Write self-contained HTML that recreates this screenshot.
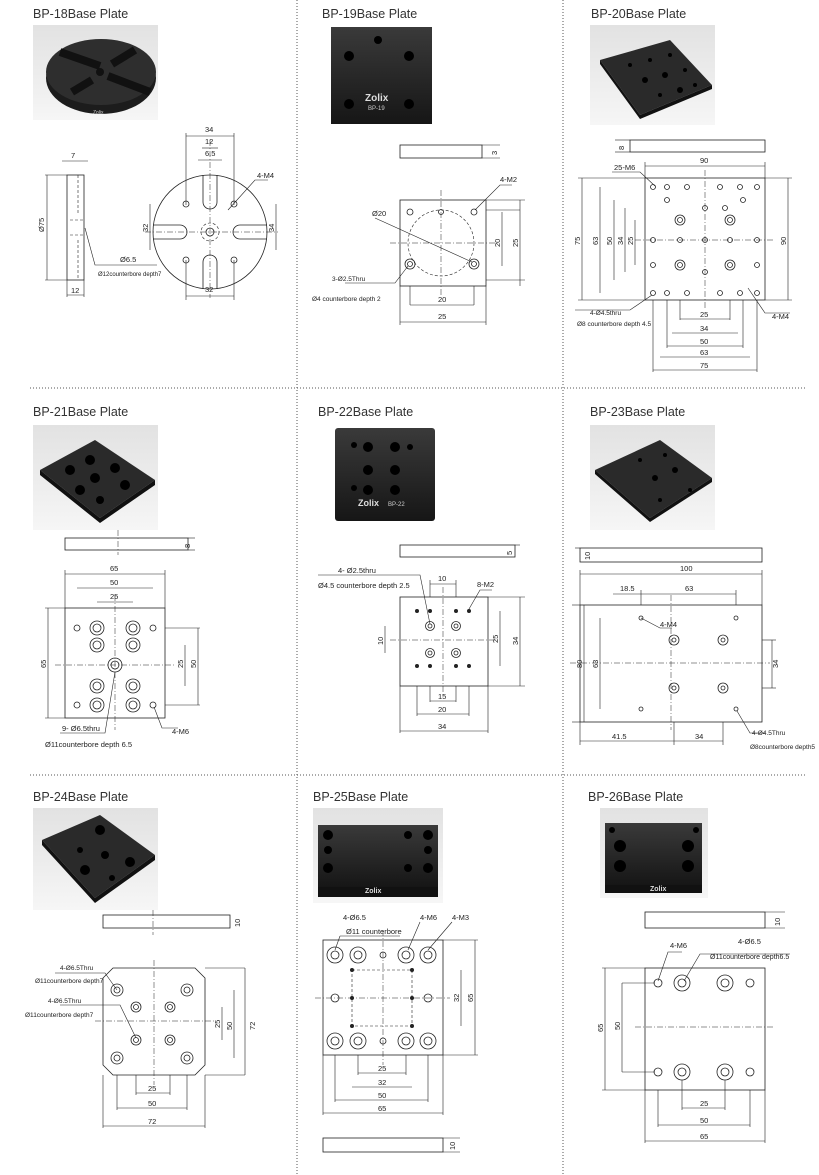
<!DOCTYPE html>
<html><head><meta charset="utf-8"><style>
html,body{margin:0;padding:0;background:#fff;}
svg{display:block;}
text{font-family:"Liberation Sans",sans-serif;fill:#222;}
.t{font-size:12.5px;fill:#333;}
.d{font-size:7.5px;}
.l{stroke:#222;stroke-width:0.8;fill:none;}
.f{stroke:#222;stroke-width:0.6;fill:none;}
.c{stroke:#222;stroke-width:0.5;fill:none;stroke-dasharray:6 2 1 2;}
.h{stroke:#222;stroke-width:0.6;fill:none;stroke-dasharray:3 2;}
.sep{stroke:#555;stroke-width:1;stroke-dasharray:1 2;}
</style></head><body>
<svg width="819" height="1175" viewBox="0 0 819 1175" xmlns="http://www.w3.org/2000/svg">
<defs>
<linearGradient id="bg" x1="0" y1="0" x2="0" y2="1"><stop offset="0" stop-color="#e2e2e2"/><stop offset="1" stop-color="#f6f6f6"/></linearGradient>
<linearGradient id="pl" x1="0" y1="0" x2="0" y2="1"><stop offset="0" stop-color="#3a3a3a"/><stop offset="1" stop-color="#161616"/></linearGradient>
</defs>
<!-- separators -->
<line class="sep" x1="297" y1="0" x2="297" y2="1175"/>
<line class="sep" x1="563" y1="0" x2="563" y2="1175"/>
<line class="sep" x1="30" y1="388" x2="805" y2="388"/>
<line class="sep" x1="30" y1="775" x2="805" y2="775"/>

<!-- titles -->
<text class="t" x="33" y="18">BP-18Base Plate</text>
<text class="t" x="322" y="18">BP-19Base Plate</text>
<text class="t" x="591" y="18">BP-20Base Plate</text>
<text class="t" x="33" y="416">BP-21Base Plate</text>
<text class="t" x="318" y="416">BP-22Base Plate</text>
<text class="t" x="590" y="416">BP-23Base Plate</text>
<text class="t" x="33" y="801">BP-24Base Plate</text>
<text class="t" x="313" y="801">BP-25Base Plate</text>
<text class="t" x="588" y="801">BP-26Base Plate</text>

<!-- ===== BP-18 ===== -->
<rect x="33" y="25" width="125" height="95" fill="url(#bg)"/>
<ellipse cx="101" cy="78" rx="55" ry="36" fill="#1c1c1c"/>
<ellipse cx="101" cy="72" rx="55" ry="33" fill="#2e2e2e"/>
<path d="M60 52 L100 66 M108 76 L150 92 M72 92 L92 80 M112 64 L135 50" stroke="#111" stroke-width="8"/>
<circle cx="100" cy="72" r="4" fill="#111"/>
<text x="93" y="114" style="font-size:5px;fill:#ccc">Zolix</text>
<!-- side -->
<rect class="l" x="67" y="175" width="17" height="105"/>
<line class="h" x1="78" y1="175" x2="78" y2="215"/><line class="h" x1="78" y1="240" x2="78" y2="280"/>
<line class="h" x1="70" y1="220" x2="84" y2="220"/><line class="h" x1="70" y1="235" x2="84" y2="235"/>
<line class="f" x1="45" y1="175" x2="67" y2="175"/><line class="f" x1="45" y1="280" x2="67" y2="280"/>
<line class="f" x1="47" y1="175" x2="47" y2="280"/>
<text class="d" transform="translate(44,232) rotate(-90)">Ø75</text>
<line class="f" x1="62" y1="161" x2="88" y2="161"/><text class="d" x="71" y="158">7</text>
<line class="f" x1="67" y1="280" x2="67" y2="297"/><line class="f" x1="84" y1="280" x2="84" y2="297"/>
<line class="f" x1="67" y1="295" x2="84" y2="295"/><text class="d" x="71" y="293">12</text>
<polyline class="f" points="85,228 95,265 157,265"/>
<text class="d" x="120" y="262">Ø6.5</text>
<text class="d" x="98" y="276" style="font-size:6px">Ø12counterbore depth7</text>
<!-- top -->
<circle class="l" cx="210" cy="232" r="57"/>
<path class="l" d="M203 175 V202 A7 7 0 0 0 217 202 V175"/>
<path class="l" d="M203 289 V262 A7 7 0 0 1 217 262 V289"/>
<path class="l" d="M153 225 H180 A7 7 0 0 1 180 239 H153"/>
<path class="l" d="M267 225 H240 A7 7 0 0 0 240 239 H267"/>
<circle class="h" cx="210" cy="232" r="9"/><circle class="l" cx="210" cy="232" r="4"/>
<line class="c" x1="145" y1="232" x2="278" y2="232"/><line class="c" x1="210" y1="140" x2="210" y2="298"/>
<circle class="l" cx="186" cy="204" r="3"/><circle class="l" cx="234" cy="204" r="3"/><circle class="l" cx="186" cy="260" r="3"/><circle class="l" cx="234" cy="260" r="3"/>
<line class="f" x1="186" y1="133" x2="186" y2="205"/><line class="f" x1="234" y1="133" x2="234" y2="205"/>
<line class="f" x1="186" y1="136" x2="234" y2="136"/><text class="d" x="205" y="132">34</text>
<line class="f" x1="202" y1="148" x2="218" y2="148"/><text class="d" x="205" y="144">12</text>
<line class="f" x1="198" y1="160" x2="222" y2="160"/><text class="d" x="205" y="156">6.5</text>
<line class="f" x1="150" y1="204" x2="150" y2="250"/><text class="d" transform="translate(148,232) rotate(-90)">32</text>
<line class="f" x1="276" y1="204" x2="276" y2="250"/><text class="d" transform="translate(274,232) rotate(-90)">34</text>
<line class="f" x1="186" y1="260" x2="186" y2="300"/><line class="f" x1="234" y1="260" x2="234" y2="300"/>
<line class="f" x1="186" y1="296" x2="234" y2="296"/><text class="d" x="205" y="292">32</text>
<polyline class="f" points="228,210 255,180 268,180"/><text class="d" x="257" y="178">4-M4</text>

<!-- ===== BP-19 ===== -->
<rect x="331" y="27" width="101" height="97" fill="url(#pl)"/>
<circle cx="378" cy="40" r="4" fill="#000"/><circle cx="349" cy="56" r="5" fill="#000"/><circle cx="409" cy="56" r="5" fill="#000"/>
<circle cx="349" cy="104" r="5" fill="#000"/><circle cx="409" cy="104" r="5" fill="#000"/>
<text x="365" y="101" style="font-size:10px;font-weight:bold;fill:#ddd">Zolix</text>
<text x="368" y="110" style="font-size:6px;fill:#ccc">BP-19</text>
<rect class="l" x="400" y="145" width="82" height="13"/>
<line class="f" x1="482" y1="145" x2="500" y2="145"/><line class="f" x1="482" y1="158" x2="500" y2="158"/><text class="d" transform="translate(497,155) rotate(-90)">3</text>
<rect class="l" x="400" y="200" width="86" height="86"/>
<circle class="h" cx="441" cy="243" r="33"/>
<line class="c" x1="390" y1="243" x2="495" y2="243"/><line class="c" x1="441" y1="190" x2="441" y2="296"/>
<circle class="l" cx="410" cy="212" r="3"/><circle class="l" cx="474" cy="212" r="3"/><circle class="l" cx="410" cy="264" r="5"/><circle class="l" cx="474" cy="264" r="5"/>
<circle class="l" cx="410" cy="264" r="2.5"/><circle class="l" cx="474" cy="264" r="2.5"/><circle class="l" cx="441" cy="212" r="2.5"/>
<line class="f" x1="375" y1="218" x2="472" y2="262"/><text class="d" x="372" y="216">Ø20</text>
<polyline class="f" points="475,210 500,185 512,185"/><text class="d" x="500" y="182">4-M2</text>
<polyline class="f" points="408,266 395,283 345,283"/><text class="d" x="332" y="281" style="font-size:6.5px">3-Ø2.5Thru</text>
<text class="d" x="312" y="301" style="font-size:6.5px">Ø4 counterbore depth 2</text>
<line class="f" x1="486" y1="210" x2="520" y2="210"/><line class="f" x1="486" y1="200" x2="525" y2="200"/><line class="f" x1="486" y1="280" x2="525" y2="280"/>
<line class="f" x1="502" y1="212" x2="502" y2="266"/><text class="d" transform="translate(500,247) rotate(-90)">20</text>
<line class="f" x1="520" y1="200" x2="520" y2="286"/><text class="d" transform="translate(518,247) rotate(-90)">25</text>
<line class="f" x1="410" y1="286" x2="410" y2="305"/><line class="f" x1="474" y1="286" x2="474" y2="305"/><line class="f" x1="400" y1="286" x2="400" y2="325"/><line class="f" x1="486" y1="286" x2="486" y2="325"/>
<line class="f" x1="410" y1="305" x2="474" y2="305"/><text class="d" x="438" y="302">20</text>
<line class="f" x1="400" y1="322" x2="486" y2="322"/><text class="d" x="438" y="319">25</text>

<!-- ===== BP-20 ===== -->
<rect x="590" y="25" width="125" height="100" fill="url(#bg)"/>
<polygon points="600,60 670,40 712,85 640,115" fill="#2a2a2a"/>
<polygon points="600,60 640,115 640,119 600,64" fill="#111"/>
<polygon points="640,115 712,85 712,89 640,119" fill="#111"/>
<g fill="#000"><circle cx="630" cy="65" r="2"/><circle cx="650" cy="60" r="2"/><circle cx="670" cy="55" r="2"/><circle cx="645" cy="80" r="3"/><circle cx="665" cy="75" r="3"/><circle cx="685" cy="70" r="2"/><circle cx="660" cy="95" r="2"/><circle cx="680" cy="90" r="3"/><circle cx="695" cy="85" r="2"/></g>
<rect class="l" x="630" y="140" width="135" height="12"/>
<line class="f" x1="615" y1="140" x2="630" y2="140"/><line class="f" x1="615" y1="152" x2="630" y2="152"/><text class="d" transform="translate(624,150) rotate(-90)">8</text>
<rect class="l" x="645" y="178" width="120" height="122"/>
<line class="f" x1="645" y1="162" x2="645" y2="178"/><line class="f" x1="765" y1="162" x2="765" y2="178"/><line class="f" x1="645" y1="166" x2="765" y2="166"/><text class="d" x="700" y="163">90</text>
<line class="c" x1="635" y1="240" x2="775" y2="240"/><line class="c" x1="705" y1="170" x2="705" y2="310"/>
<g class="l">
<circle cx="653" cy="187" r="2.5"/><circle cx="667" cy="187" r="2.5"/><circle cx="687" cy="187" r="2.5"/><circle cx="720" cy="187" r="2.5"/><circle cx="740" cy="187" r="2.5"/><circle cx="757" cy="187" r="2.5"/>
<circle cx="667" cy="200" r="2.5"/><circle cx="743" cy="200" r="2.5"/><circle cx="705" cy="208" r="2.5"/><circle cx="725" cy="208" r="2.5"/>
<circle cx="680" cy="220" r="5"/><circle cx="680" cy="220" r="2.5"/><circle cx="730" cy="220" r="5"/><circle cx="730" cy="220" r="2.5"/>
<circle cx="653" cy="240" r="2.5"/><circle cx="680" cy="240" r="2.5"/><circle cx="705" cy="240" r="2.5"/><circle cx="730" cy="240" r="2.5"/><circle cx="757" cy="240" r="2.5"/>
<circle cx="680" cy="265" r="5"/><circle cx="680" cy="265" r="2.5"/><circle cx="730" cy="265" r="5"/><circle cx="730" cy="265" r="2.5"/>
<circle cx="653" cy="265" r="2.5"/><circle cx="705" cy="272" r="2.5"/><circle cx="757" cy="265" r="2.5"/>
<circle cx="653" cy="293" r="2.5"/><circle cx="667" cy="293" r="2.5"/><circle cx="687" cy="293" r="2.5"/><circle cx="720" cy="293" r="2.5"/><circle cx="740" cy="293" r="2.5"/><circle cx="757" cy="293" r="2.5"/>
</g>
<polyline class="f" points="655,186 640,172 612,172"/><text class="d" x="614" y="170">25-M6</text>
<line class="f" x1="578" y1="178" x2="645" y2="178"/><line class="f" x1="578" y1="300" x2="645" y2="300"/>
<line class="f" x1="582" y1="178" x2="582" y2="300"/><text class="d" transform="translate(580,245) rotate(-90)">75</text>
<line class="f" x1="600" y1="187" x2="600" y2="293"/><text class="d" transform="translate(598,245) rotate(-90)">63</text>
<line class="f" x1="614" y1="200" x2="614" y2="280"/><text class="d" transform="translate(612,245) rotate(-90)">50</text>
<line class="f" x1="625" y1="208" x2="625" y2="272"/><text class="d" transform="translate(623,245) rotate(-90)">34</text>
<line class="f" x1="635" y1="220" x2="635" y2="265"/><text class="d" transform="translate(633,245) rotate(-90)">25</text>
<line class="f" x1="765" y1="178" x2="792" y2="178"/><line class="f" x1="765" y1="300" x2="792" y2="300"/>
<line class="f" x1="788" y1="178" x2="788" y2="300"/><text class="d" transform="translate(786,245) rotate(-90)">90</text>
<polyline class="f" points="652,295 630,310 575,310"/><text class="d" x="590" y="315" style="font-size:6.5px">4-Ø4.5thru</text>
<text class="d" x="577" y="326" style="font-size:6.5px">Ø8 counterbore depth 4.5</text>
<polyline class="f" points="748,288 765,313 790,313"/><text class="d" x="772" y="319">4-M4</text>
<line class="f" x1="680" y1="300" x2="680" y2="320"/><line class="f" x1="730" y1="300" x2="730" y2="320"/><line class="f" x1="680" y1="319" x2="730" y2="319"/><text class="d" x="700" y="317">25</text>
<line class="f" x1="672" y1="333" x2="738" y2="333"/><text class="d" x="700" y="331">34</text>
<line class="f" x1="667" y1="300" x2="667" y2="348"/><line class="f" x1="743" y1="300" x2="743" y2="348"/><line class="f" x1="667" y1="346" x2="743" y2="346"/><text class="d" x="700" y="344">50</text>
<line class="f" x1="653" y1="300" x2="653" y2="372"/><line class="f" x1="757" y1="300" x2="757" y2="372"/><line class="f" x1="660" y1="357" x2="750" y2="357"/><text class="d" x="700" y="355">63</text>
<line class="f" x1="653" y1="370" x2="757" y2="370"/><text class="d" x="700" y="368">75</text>

<!-- ===== BP-21 ===== -->
<rect x="33" y="425" width="125" height="105" fill="url(#bg)"/>
<polygon points="40,470 95,440 155,480 100,518" fill="#2a2a2a"/>
<polygon points="40,470 100,518 100,523 40,475" fill="#111"/><polygon points="100,518 155,480 155,485 100,523" fill="#111"/>
<g fill="#000"><circle cx="70" cy="470" r="5"/><circle cx="90" cy="460" r="5"/><circle cx="95" cy="478" r="5"/><circle cx="115" cy="468" r="5"/><circle cx="80" cy="490" r="5"/><circle cx="100" cy="500" r="4"/><circle cx="125" cy="485" r="5"/></g>
<rect class="l" x="65" y="538" width="123" height="12"/>
<line class="c" x1="118" y1="530" x2="118" y2="555"/>
<line class="f" x1="188" y1="538" x2="195" y2="538"/><line class="f" x1="188" y1="550" x2="195" y2="550"/><text class="d" transform="translate(190,548) rotate(-90)">8</text>
<rect class="l" x="65" y="608" width="100" height="110"/>
<line class="c" x1="55" y1="665" x2="175" y2="665"/><line class="c" x1="115" y1="595" x2="115" y2="730"/>
<g class="l">
<circle cx="77" cy="628" r="3"/><circle cx="97" cy="628" r="7"/><circle cx="97" cy="628" r="4"/><circle cx="133" cy="628" r="7"/><circle cx="133" cy="628" r="4"/><circle cx="153" cy="628" r="3"/>
<circle cx="97" cy="645" r="7"/><circle cx="97" cy="645" r="4"/><circle cx="133" cy="645" r="7"/><circle cx="133" cy="645" r="4"/>
<circle cx="115" cy="665" r="7"/><circle cx="115" cy="665" r="4"/>
<circle cx="97" cy="686" r="7"/><circle cx="97" cy="686" r="4"/><circle cx="133" cy="686" r="7"/><circle cx="133" cy="686" r="4"/>
<circle cx="77" cy="705" r="3"/><circle cx="97" cy="705" r="7"/><circle cx="97" cy="705" r="4"/><circle cx="133" cy="705" r="7"/><circle cx="133" cy="705" r="4"/><circle cx="153" cy="705" r="3"/>
</g>
<line class="f" x1="65" y1="570" x2="65" y2="608"/><line class="f" x1="165" y1="570" x2="165" y2="608"/><line class="f" x1="65" y1="574" x2="165" y2="574"/><text class="d" x="110" y="571">65</text>
<line class="f" x1="77" y1="588" x2="153" y2="588"/><text class="d" x="110" y="585">50</text>
<line class="f" x1="97" y1="602" x2="133" y2="602"/><text class="d" x="110" y="599">25</text>
<line class="f" x1="45" y1="608" x2="65" y2="608"/><line class="f" x1="45" y1="718" x2="65" y2="718"/>
<line class="f" x1="48" y1="608" x2="48" y2="718"/><text class="d" transform="translate(46,668) rotate(-90)">65</text>
<line class="f" x1="185" y1="645" x2="185" y2="686"/><text class="d" transform="translate(183,668) rotate(-90)">25</text>
<line class="f" x1="198" y1="628" x2="198" y2="705"/><text class="d" transform="translate(196,668) rotate(-90)">50</text>
<line class="f" x1="165" y1="628" x2="200" y2="628"/><line class="f" x1="165" y1="705" x2="200" y2="705"/>
<polyline class="f" points="154,707 162,728 178,728"/><text class="d" x="172" y="734">4-M6</text>
<polyline class="f" points="115,672 105,733 60,733"/><text class="d" x="62" y="731">9- Ø6.5thru</text>
<text class="d" x="45" y="747">Ø11counterbore depth 6.5</text>

<!-- ===== BP-22 ===== -->
<rect x="335" y="428" width="100" height="93" fill="url(#pl)" rx="3"/>
<g fill="#000"><circle cx="354" cy="445" r="3"/><circle cx="368" cy="447" r="5"/><circle cx="395" cy="447" r="5"/><circle cx="368" cy="470" r="5"/><circle cx="395" cy="470" r="5"/><circle cx="410" cy="447" r="3"/><circle cx="354" cy="488" r="3"/><circle cx="368" cy="490" r="5"/><circle cx="395" cy="490" r="5"/></g>
<text x="358" y="506" style="font-size:9px;font-weight:bold;fill:#ddd">Zolix</text><text x="388" y="506" style="font-size:6px;fill:#ccc">BP-22</text>
<rect class="l" x="400" y="545" width="115" height="12"/>
<line class="f" x1="515" y1="545" x2="520" y2="545"/><text class="d" transform="translate(512,555) rotate(-90)">5</text>
<rect class="l" x="400" y="597" width="88" height="89"/>
<line class="c" x1="390" y1="640" x2="498" y2="640"/><line class="c" x1="443" y1="587" x2="443" y2="696"/>
<g class="l"><circle cx="430" cy="626" r="4.5"/><circle cx="430" cy="626" r="2"/><circle cx="456" cy="626" r="4.5"/><circle cx="456" cy="626" r="2"/><circle cx="430" cy="653" r="4.5"/><circle cx="430" cy="653" r="2"/><circle cx="456" cy="653" r="4.5"/><circle cx="456" cy="653" r="2"/></g>
<g fill="#222"><circle cx="417" cy="611" r="2"/><circle cx="469" cy="611" r="2"/><circle cx="417" cy="666" r="2"/><circle cx="469" cy="666" r="2"/><circle cx="430" cy="611" r="2"/><circle cx="456" cy="611" r="2"/><circle cx="430" cy="666" r="2"/><circle cx="456" cy="666" r="2"/></g>
<line class="f" x1="430" y1="580" x2="430" y2="597"/><line class="f" x1="456" y1="580" x2="456" y2="597"/><line class="f" x1="430" y1="584" x2="456" y2="584"/><text class="d" x="438" y="581">10</text>
<polyline class="f" points="430,624 420,575 318,575"/><text class="d" x="338" y="573">4- Ø2.5thru</text>
<text class="d" x="318" y="588">Ø4.5 counterbore depth 2.5</text>
<polyline class="f" points="469,609 480,590 492,590"/><text class="d" x="477" y="587">8-M2</text>
<line class="f" x1="385" y1="626" x2="385" y2="653"/><text class="d" transform="translate(383,645) rotate(-90)">10</text>
<line class="f" x1="488" y1="597" x2="525" y2="597"/><line class="f" x1="488" y1="686" x2="525" y2="686"/>
<line class="f" x1="500" y1="611" x2="500" y2="666"/><text class="d" transform="translate(498,643) rotate(-90)">25</text>
<line class="f" x1="520" y1="597" x2="520" y2="686"/><text class="d" transform="translate(518,645) rotate(-90)">34</text>
<line class="f" x1="430" y1="686" x2="430" y2="702"/><line class="f" x1="456" y1="686" x2="456" y2="702"/><line class="f" x1="430" y1="701" x2="456" y2="701"/><text class="d" x="438" y="699">15</text>
<line class="f" x1="417" y1="686" x2="417" y2="716"/><line class="f" x1="469" y1="686" x2="469" y2="716"/><line class="f" x1="417" y1="714" x2="469" y2="714"/><text class="d" x="438" y="712">20</text>
<line class="f" x1="400" y1="686" x2="400" y2="733"/><line class="f" x1="488" y1="686" x2="488" y2="733"/><line class="f" x1="400" y1="731" x2="488" y2="731"/><text class="d" x="438" y="729">34</text>

<!-- ===== BP-23 ===== -->
<rect x="590" y="425" width="125" height="105" fill="url(#bg)"/>
<polygon points="595,470 660,440 712,478 650,518" fill="#2a2a2a"/>
<polygon points="595,470 650,518 650,522 595,474" fill="#111"/><polygon points="650,518 712,478 712,482 650,522" fill="#111"/>
<g fill="#000"><circle cx="640" cy="460" r="2"/><circle cx="665" cy="455" r="2"/><circle cx="655" cy="478" r="3"/><circle cx="675" cy="470" r="3"/><circle cx="660" cy="500" r="2"/><circle cx="690" cy="490" r="2"/></g>
<rect class="l" x="580" y="548" width="182" height="14"/>
<line class="f" x1="575" y1="548" x2="580" y2="548"/><text class="d" transform="translate(590,560) rotate(-90)">10</text>
<rect class="l" x="580" y="605" width="182" height="117"/>
<line class="c" x1="570" y1="663" x2="770" y2="663"/><line class="c" x1="671" y1="595" x2="671" y2="730"/>
<g class="l"><circle cx="641" cy="618" r="2"/><circle cx="736" cy="618" r="2"/><circle cx="641" cy="709" r="2"/><circle cx="736" cy="709" r="2"/>
<circle cx="674" cy="640" r="5"/><circle cx="674" cy="640" r="2"/><circle cx="723" cy="640" r="5"/><circle cx="723" cy="640" r="2"/>
<circle cx="674" cy="688" r="5"/><circle cx="674" cy="688" r="2"/><circle cx="723" cy="688" r="5"/><circle cx="723" cy="688" r="2"/></g>
<line class="f" x1="580" y1="570" x2="580" y2="605"/><line class="f" x1="762" y1="570" x2="762" y2="605"/><line class="f" x1="580" y1="574" x2="762" y2="574"/><text class="d" x="680" y="571">100</text>
<line class="f" x1="613" y1="594" x2="736" y2="594"/><text class="d" x="620" y="591">18.5</text><text class="d" x="685" y="591">63</text>
<line class="f" x1="641" y1="590" x2="641" y2="605"/><line class="f" x1="736" y1="590" x2="736" y2="605"/>
<polyline class="f" points="641,618 660,628 672,628"/><text class="d" x="660" y="627">4-M4</text>
<line class="f" x1="572" y1="605" x2="580" y2="605"/><line class="f" x1="572" y1="722" x2="580" y2="722"/>
<line class="f" x1="584" y1="605" x2="584" y2="722"/><text class="d" transform="translate(582,668) rotate(-90)">80</text>
<line class="f" x1="600" y1="618" x2="600" y2="709"/><text class="d" transform="translate(598,668) rotate(-90)">63</text>
<line class="f" x1="772" y1="640" x2="772" y2="688"/><text class="d" transform="translate(778,668) rotate(-90)">34</text>
<line class="f" x1="762" y1="640" x2="776" y2="640"/><line class="f" x1="762" y1="688" x2="776" y2="688"/>
<line class="f" x1="580" y1="722" x2="580" y2="745"/><line class="f" x1="674" y1="722" x2="674" y2="745"/><line class="f" x1="723" y1="722" x2="723" y2="745"/>
<line class="f" x1="580" y1="741" x2="723" y2="741"/><text class="d" x="612" y="739">41.5</text><text class="d" x="695" y="739">34</text>
<polyline class="f" points="737,711 750,733 765,733"/><text class="d" x="752" y="735" style="font-size:6.5px">4-Ø4.5Thru</text>
<text class="d" x="750" y="749" style="font-size:6.5px">Ø8counterbore depth5</text>

<!-- ===== BP-24 ===== -->
<rect x="33" y="808" width="125" height="102" fill="url(#bg)"/>
<polygon points="42,840 100,815 155,855 95,898" fill="#2a2a2a"/>
<polygon points="42,840 95,898 95,903 42,845" fill="#111"/><polygon points="95,898 155,855 155,860 95,903" fill="#111"/>
<g fill="#000"><circle cx="100" cy="830" r="5"/><circle cx="80" cy="850" r="3"/><circle cx="105" cy="855" r="4"/><circle cx="130" cy="862" r="5"/><circle cx="85" cy="870" r="5"/><circle cx="112" cy="878" r="3"/></g>
<rect class="l" x="103" y="915" width="127" height="13"/>
<line class="c" x1="153" y1="910" x2="153" y2="935"/>
<text class="d" transform="translate(240,927) rotate(-90)">10</text>
<polygon class="l" points="113,968 195,968 205,978 205,1065 195,1075 113,1075 103,1065 103,978"/>
<line class="c" x1="95" y1="1021" x2="215" y2="1021"/><line class="c" x1="154" y1="960" x2="154" y2="1085"/>
<g class="l"><circle cx="117" cy="990" r="6"/><circle cx="117" cy="990" r="3"/><circle cx="187" cy="990" r="6"/><circle cx="187" cy="990" r="3"/>
<circle cx="117" cy="1058" r="6"/><circle cx="117" cy="1058" r="3"/><circle cx="187" cy="1058" r="6"/><circle cx="187" cy="1058" r="3"/>
<circle cx="136" cy="1007" r="5"/><circle cx="136" cy="1007" r="2.5"/><circle cx="170" cy="1007" r="5"/><circle cx="170" cy="1007" r="2.5"/>
<circle cx="136" cy="1040" r="5"/><circle cx="136" cy="1040" r="2.5"/><circle cx="170" cy="1040" r="5"/><circle cx="170" cy="1040" r="2.5"/></g>
<polyline class="f" points="117,990 105,973 55,973"/><text class="d" x="60" y="970" style="font-size:6.5px">4-Ø6.5Thru</text>
<text class="d" x="35" y="983" style="font-size:6.5px">Ø11counterbore depth7</text>
<polyline class="f" points="136,1038 120,1005 60,1005"/><text class="d" x="48" y="1003" style="font-size:6.5px">4-Ø6.5Thru</text>
<text class="d" x="25" y="1017" style="font-size:6.5px">Ø11counterbore depth7</text>
<line class="f" x1="205" y1="968" x2="245" y2="968"/><line class="f" x1="205" y1="1075" x2="245" y2="1075"/>
<line class="f" x1="222" y1="1007" x2="222" y2="1040"/><text class="d" transform="translate(220,1028) rotate(-90)">25</text>
<line class="f" x1="234" y1="990" x2="234" y2="1058"/><text class="d" transform="translate(232,1030) rotate(-90)">50</text>
<line class="f" x1="245" y1="968" x2="245" y2="1075"/><text class="d" transform="translate(255,1030) rotate(-90)">72</text>
<line class="f" x1="136" y1="1075" x2="136" y2="1095"/><line class="f" x1="170" y1="1075" x2="170" y2="1095"/><line class="f" x1="136" y1="1093" x2="170" y2="1093"/><text class="d" x="148" y="1091">25</text>
<line class="f" x1="117" y1="1075" x2="117" y2="1110"/><line class="f" x1="187" y1="1075" x2="187" y2="1110"/><line class="f" x1="117" y1="1108" x2="187" y2="1108"/><text class="d" x="148" y="1106">50</text>
<line class="f" x1="103" y1="1075" x2="103" y2="1128"/><line class="f" x1="205" y1="1075" x2="205" y2="1128"/><line class="f" x1="103" y1="1126" x2="205" y2="1126"/><text class="d" x="148" y="1124">72</text>

<!-- ===== BP-25 ===== -->
<rect x="313" y="808" width="130" height="95" fill="url(#bg)"/>
<rect x="318" y="825" width="120" height="62" fill="url(#pl)"/>
<rect x="318" y="887" width="120" height="10" fill="#111"/>
<g fill="#000"><circle cx="328" cy="835" r="5"/><circle cx="428" cy="835" r="5"/><circle cx="328" cy="850" r="4"/><circle cx="428" cy="850" r="4"/><circle cx="328" cy="868" r="5"/><circle cx="428" cy="868" r="5"/><circle cx="408" cy="835" r="4"/><circle cx="408" cy="868" r="4"/></g>
<text x="365" y="893" style="font-size:7px;font-weight:bold;fill:#ddd">Zolix</text>
<rect class="l" x="323" y="940" width="120" height="115"/>
<line class="c" x1="315" y1="998" x2="450" y2="998"/><line class="c" x1="383" y1="930" x2="383" y2="1065"/>
<g class="l">
<circle cx="335" cy="955" r="8"/><circle cx="335" cy="955" r="4"/><circle cx="358" cy="955" r="8"/><circle cx="358" cy="955" r="4"/><circle cx="406" cy="955" r="8"/><circle cx="406" cy="955" r="4"/><circle cx="428" cy="955" r="8"/><circle cx="428" cy="955" r="4"/>
<circle cx="335" cy="1041" r="8"/><circle cx="335" cy="1041" r="4"/><circle cx="358" cy="1041" r="8"/><circle cx="358" cy="1041" r="4"/><circle cx="406" cy="1041" r="8"/><circle cx="406" cy="1041" r="4"/><circle cx="428" cy="1041" r="8"/><circle cx="428" cy="1041" r="4"/>
<circle cx="335" cy="998" r="4"/><circle cx="428" cy="998" r="4"/><circle cx="383" cy="955" r="3"/><circle cx="383" cy="1041" r="3"/>
</g>
<rect class="h" x="352" y="970" width="60" height="56"/>
<g fill="#222"><circle cx="352" cy="970" r="2"/><circle cx="412" cy="970" r="2"/><circle cx="352" cy="1026" r="2"/><circle cx="412" cy="1026" r="2"/><circle cx="352" cy="998" r="2"/><circle cx="412" cy="998" r="2"/></g>
<text class="d" x="343" y="920">4-Ø6.5</text><text class="d" x="346" y="934">Ø11 counterbore</text>
<line class="f" x1="340" y1="936" x2="400" y2="936"/><line class="f" x1="340" y1="936" x2="335" y2="950"/>
<text class="d" x="420" y="920">4-M6</text><text class="d" x="452" y="920">4-M3</text>
<line class="f" x1="420" y1="922" x2="408" y2="950"/><line class="f" x1="452" y1="922" x2="428" y2="950"/>
<line class="f" x1="443" y1="940" x2="478" y2="940"/><line class="f" x1="443" y1="1055" x2="478" y2="1055"/>
<line class="f" x1="461" y1="970" x2="461" y2="1026"/><text class="d" transform="translate(459,1002) rotate(-90)">32</text>
<line class="f" x1="475" y1="940" x2="475" y2="1055"/><text class="d" transform="translate(473,1002) rotate(-90)">65</text>
<line class="f" x1="358" y1="1055" x2="358" y2="1075"/><line class="f" x1="406" y1="1055" x2="406" y2="1075"/><line class="f" x1="358" y1="1073" x2="406" y2="1073"/><text class="d" x="378" y="1071">25</text>
<line class="f" x1="352" y1="1087" x2="412" y2="1087"/><text class="d" x="378" y="1085">32</text>
<line class="f" x1="335" y1="1055" x2="335" y2="1102"/><line class="f" x1="428" y1="1055" x2="428" y2="1102"/><line class="f" x1="335" y1="1100" x2="428" y2="1100"/><text class="d" x="378" y="1098">50</text>
<line class="f" x1="323" y1="1055" x2="323" y2="1115"/><line class="f" x1="443" y1="1055" x2="443" y2="1115"/><line class="f" x1="323" y1="1113" x2="443" y2="1113"/><text class="d" x="378" y="1111">65</text>
<rect class="l" x="323" y="1138" width="120" height="14"/>
<line class="f" x1="443" y1="1138" x2="460" y2="1138"/><line class="f" x1="443" y1="1152" x2="460" y2="1152"/><text class="d" transform="translate(455,1150) rotate(-90)">10</text>

<!-- ===== BP-26 ===== -->
<rect x="600" y="808" width="108" height="90" fill="url(#bg)"/>
<rect x="605" y="823" width="97" height="62" fill="url(#pl)"/>
<rect x="605" y="885" width="97" height="8" fill="#111"/>
<g fill="#000"><circle cx="612" cy="830" r="3"/><circle cx="696" cy="830" r="3"/><circle cx="620" cy="846" r="6"/><circle cx="688" cy="846" r="6"/><circle cx="620" cy="866" r="6"/><circle cx="688" cy="866" r="6"/></g>
<text x="650" y="891" style="font-size:7px;font-weight:bold;fill:#ddd">Zolix</text>
<rect class="l" x="645" y="912" width="120" height="16"/>
<text class="d" transform="translate(780,926) rotate(-90)">10</text>
<line class="f" x1="765" y1="912" x2="785" y2="912"/><line class="f" x1="765" y1="928" x2="785" y2="928"/>
<rect class="l" x="645" y="968" width="120" height="122"/>
<line class="c" x1="635" y1="1027" x2="775" y2="1027"/>
<g class="l">
<circle cx="658" cy="983" r="4"/><circle cx="682" cy="983" r="8"/><circle cx="682" cy="983" r="4"/><circle cx="725" cy="983" r="8"/><circle cx="725" cy="983" r="4"/><circle cx="750" cy="983" r="4"/>
<circle cx="658" cy="1072" r="4"/><circle cx="682" cy="1072" r="8"/><circle cx="682" cy="1072" r="4"/><circle cx="725" cy="1072" r="8"/><circle cx="725" cy="1072" r="4"/><circle cx="750" cy="1072" r="4"/>
</g>
<polyline class="f" points="658,981 668,952 682,952"/><text class="d" x="670" y="948">4-M6</text>
<polyline class="f" points="684,981 700,954 790,954"/><text class="d" x="738" y="944">4-Ø6.5</text>
<text class="d" x="710" y="959" style="font-size:7px">Ø11counterbore depth6.5</text>
<line class="f" x1="602" y1="968" x2="645" y2="968"/><line class="f" x1="602" y1="1090" x2="645" y2="1090"/>
<line class="f" x1="605" y1="968" x2="605" y2="1090"/><text class="d" transform="translate(603,1032) rotate(-90)">65</text>
<line class="f" x1="622" y1="983" x2="622" y2="1072"/><text class="d" transform="translate(620,1030) rotate(-90)">50</text>
<line class="f" x1="622" y1="983" x2="655" y2="983"/><line class="f" x1="622" y1="1072" x2="655" y2="1072"/>
<line class="f" x1="682" y1="1080" x2="682" y2="1110"/><line class="f" x1="725" y1="1080" x2="725" y2="1110"/><line class="f" x1="682" y1="1108" x2="725" y2="1108"/><text class="d" x="700" y="1106">25</text>
<line class="f" x1="658" y1="1090" x2="658" y2="1127"/><line class="f" x1="750" y1="1090" x2="750" y2="1127"/><line class="f" x1="658" y1="1125" x2="750" y2="1125"/><text class="d" x="700" y="1123">50</text>
<line class="f" x1="645" y1="1090" x2="645" y2="1143"/><line class="f" x1="765" y1="1090" x2="765" y2="1143"/><line class="f" x1="645" y1="1141" x2="765" y2="1141"/><text class="d" x="700" y="1139">65</text>
</svg>
</body></html>
